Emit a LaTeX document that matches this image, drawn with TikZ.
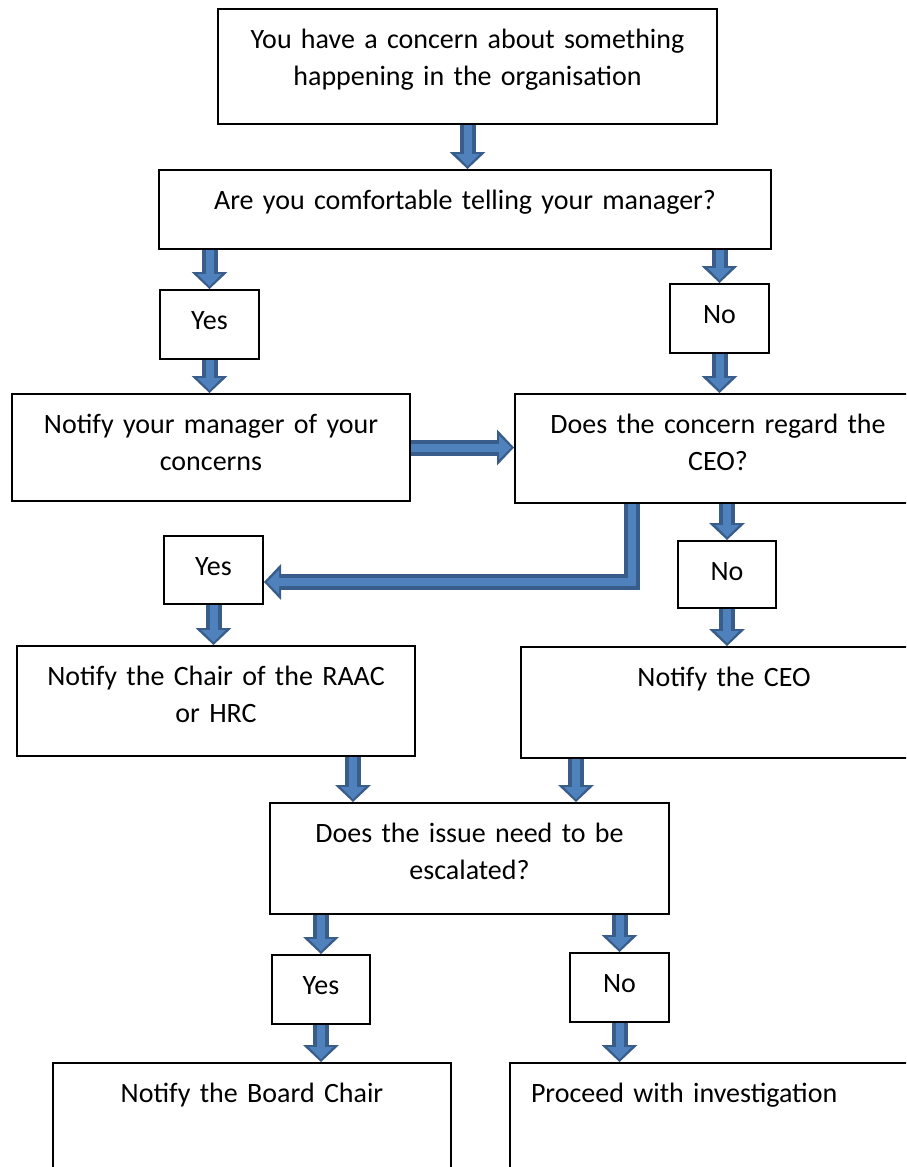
\documentclass[tikz,border=0pt]{standalone}
\usepackage{fontspec}
\setmainfont{Carlito}
\usetikzlibrary{arrows.meta}
\definecolor{arrowedge}{HTML}{385D8A}
\definecolor{arrowfill}{HTML}{4F81BD}
\tikzset{
  box/.style={draw,line width=2pt,anchor=north west,inner xsep=0pt,inner ysep=0pt,align=center,text height=39pt,font=\fontsize{28}{37}\selectfont},
  blockarrow/.style={draw=arrowfill,line width=8pt,shorten >=3pt,-{Triangle[width=24pt,length=12pt,line width=0pt]},
    preaction={draw=arrowedge,line width=16pt,shorten >=0pt,-{Triangle[width=36pt,length=17pt,line width=0pt]}}}
}

\begin{document}
\begin{tikzpicture}[x=1pt,y=-1pt]
\path[use as bounding box,clip] (0,0) rectangle (906,1167);
\node[box,text width=499pt,text depth=76pt] (q0) at (217,8) {You have a concern about something\\happening in the organisation};
\node[box,text width=612pt,text depth=40pt] (q1) at (158,169) {Are you comfortable telling your manager?};
\node[box,text width=99pt,text depth=30pt] (yes1) at (159,289) {Yes};
\node[box,text width=99pt,text depth=30pt] (no1) at (669,283) {No};
\node[box,text width=398pt,text depth=68pt] (mgr) at (11,393) {Notify your manager of your\\concerns};
\node[box,text width=406pt,text depth=70pt] (ceoq) at (514,393) {Does the concern regard the\\CEO?};
\node[box,text width=99pt,text depth=29pt] (yes2) at (163,535) {Yes};
\node[box,text width=98pt,text depth=28pt] (no2) at (677,540) {No};
\node[box,text width=398pt,text depth=71pt] (chair) at (16,645) {Notify the Chair of the RAAC\\or HRC};
\node[box,text width=406pt,text depth=72pt] (nceo) at (520,646) {Notify the CEO};
\node[box,text width=399pt,text depth=72pt] (esc) at (269,802) {Does the issue need to be\\escalated?};
\node[box,text width=98pt,text depth=30pt] (yes3) at (271,954) {Yes};
\node[box,text width=99pt,text depth=30pt] (no3) at (569,952) {No};
\node[box,text width=398pt,text depth=89pt] (board) at (52,1062) {Notify the Board Chair};
\node[box,align=left,inner xsep=21pt,text width=380pt,text depth=89pt] (proc) at (509,1062) {Proceed with investigation};
\coordinate (xa) at (353,0);
\coordinate (xb) at (576,0);
\coordinate (xc) at (632,0);
% arrows
\draw[blockarrow] (q0.south) -- (q0.south |- q1.north);
\draw[blockarrow] (yes1 |- q1.south) -- (yes1.north);
\draw[blockarrow] (no1 |- q1.south) -- (no1.north);
\draw[blockarrow] (yes1.south) -- (yes1 |- mgr.north);
\draw[blockarrow] (no1.south) -- (no1 |- ceoq.north);
\draw[blockarrow] (mgr.east) -- (mgr.east -| ceoq.west);
\draw[blockarrow] (ceoq.south -| xc) |- ([yshift=-12pt]yes2.east);
\draw[blockarrow] (no2 |- ceoq.south) -- (no2.north);
\draw[blockarrow] (yes2.south) -- (yes2 |- chair.north);
\draw[blockarrow] (no2.south) -- (no2 |- nceo.north);
\draw[blockarrow] (chair.south -| xa) -- (esc.north -| xa);
\draw[blockarrow] (nceo.south -| xb) -- (esc.north -| xb);
\draw[blockarrow] (yes3 |- esc.south) -- (yes3.north);
\draw[blockarrow] (no3 |- esc.south) -- (no3.north);
\draw[blockarrow] (yes3.south) -- (yes3 |- board.north);
\draw[blockarrow] (no3.south) -- (no3 |- proc.north);
\end{tikzpicture}
\end{document}
